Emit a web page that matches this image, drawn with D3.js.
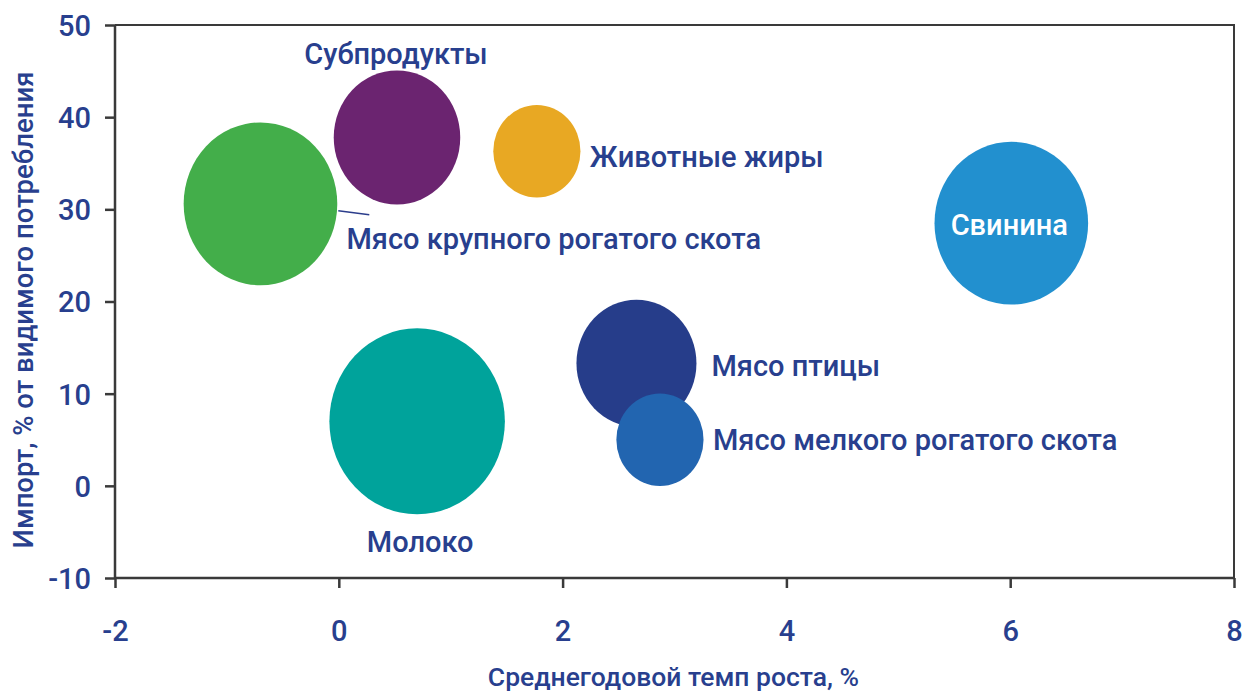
<!DOCTYPE html>
<html>
<head>
<meta charset="utf-8">
<script src="https://cdn.jsdelivr.net/npm/d3@7"></script>
<style>
  html, body { margin: 0; padding: 0; background: #fff; }
  svg { display: block; }
</style>
</head>
<body>
<svg id="chart" width="1246" height="691"></svg>
<script>
// ---- data ----
const categories = ["Мясо крупного рогатого скота", "Субпродукты", "Животные жиры", "Свинина",
                    "Мясо птицы", "Мясо мелкого рогатого скота", "Молоко"];
const growthRate = [-0.70, 0.52, 1.77, 6.01, 2.66, 2.87, 0.70];   // x, %
const importShare = [30.6, 37.8, 36.3, 28.5, 13.3, 5.0, 7.0];     // y, %
const bubbleSize = [59, 40, 19, 59, 36, 19, 77];                  // relative volume
const colors = ["#43ae4a", "#6b2470", "#e8a823", "#2290cf", "#263d8a", "#2265b0", "#00a39b"];
const xTicks = [-2, 0, 2, 4, 6, 8];
const yTicks = [-10, 0, 10, 20, 30, 40, 50];
const xTitle = "Среднегодовой темп роста, %";
const yTitle = "Импорт, % от видимого потребления";

// ---- layout ----
const mLeft = 115, mRight = 1234, mTop = 25, mBottom = 578;
const textColor = "#283f8e";
const font = "Roboto, 'Liberation Sans', sans-serif";

const svg = d3.select("#chart");
const x = d3.scaleLinear().domain([-2, 8]).range([mLeft, mRight]);
const y = d3.scaleLinear().domain([-10, 50]).range([mBottom, mTop]);
const r = d3.scaleSqrt().domain([0, 100]).range([0, 100]);
const aspect = 1.06;
const fmt = d => String(d);

// frame (top & right)
svg.append("path")
  .attr("d", `M${mLeft},${mTop}H${mRight}V${mBottom}`)
  .attr("fill", "none").attr("stroke", "#3a3a3a").attr("stroke-width", 2);

// bubbles
const data = categories.map((c, i) => ({ name: c, x: growthRate[i], y: importShare[i], s: bubbleSize[i], color: colors[i] }));
svg.append("g").selectAll("ellipse").data(data).join("ellipse")
  .attr("cx", d => x(d.x)).attr("cy", d => y(d.y))
  .attr("rx", d => r(d.s)).attr("ry", d => r(d.s) * aspect)
  .attr("fill", d => d.color);

// axes
const xAxis = svg.append("g").attr("transform", `translate(0,${mBottom})`)
  .call(d3.axisBottom(x).tickValues(xTicks).tickFormat(fmt).tickSize(10).tickPadding(32));
const yAxis = svg.append("g").attr("transform", `translate(${mLeft},0)`)
  .call(d3.axisLeft(y).tickValues(yTicks).tickFormat(fmt).tickSize(10).tickPadding(14));
[xAxis, yAxis].forEach(g => {
  g.select(".domain").attr("stroke", "#3a3a3a").attr("stroke-width", 2.5);
  g.selectAll(".tick line").attr("stroke", "#3a3a3a").attr("stroke-width", 2.5);
  g.selectAll(".tick text").attr("fill", textColor).attr("font-family", font)
    .attr("font-size", 29).attr("font-weight", 500);
});
yAxis.selectAll(".tick text").attr("dy", "0.36em");
xAxis.select(".domain").attr("d", `M${mLeft},0H${mRight}`);
yAxis.select(".domain").attr("d", `M0,${mTop}V${mBottom}`);

// axis titles
svg.append("text").attr("x", (mLeft + mRight) / 2 - 1).attr("y", 686)
  .attr("text-anchor", "middle").attr("fill", textColor)
  .attr("font-family", font).attr("font-size", 26.5).attr("font-weight", 500)
  .text(xTitle);
svg.append("text").attr("transform", `translate(33,310) rotate(-90)`)
  .attr("text-anchor", "middle").attr("fill", textColor)
  .attr("font-family", font).attr("font-size", 27.5).attr("font-weight", 500)
  .text(yTitle);

// labels (placement relative to each bubble)
const labelPlace = [
  { dx: 86, dy: 45, anchor: "start" },
  { dx: -1, dy: -73, anchor: "middle" },
  { dx: 53, dy: 16, anchor: "start" },
  { dx: -2, dy: 12, anchor: "middle", fill: "#ffffff" },
  { dx: 75, dy: 13, anchor: "start" },
  { dx: 53, dy: 10, anchor: "start" },
  { dx: 3, dy: 131, anchor: "middle" }
];
svg.append("g").selectAll("text").data(data).join("text")
  .attr("x", (d, i) => x(d.x) + labelPlace[i].dx)
  .attr("y", (d, i) => y(d.y) + labelPlace[i].dy)
  .attr("text-anchor", (d, i) => labelPlace[i].anchor)
  .attr("fill", (d, i) => labelPlace[i].fill || textColor)
  .attr("font-family", font).attr("font-size", 29).attr("font-weight", 500)
  .text(d => d.name);

// leader line for the first bubble
const d0 = data[0];
svg.append("line")
  .attr("x1", x(d0.x) + r(d0.s) + 1).attr("y1", y(d0.y) + 7)
  .attr("x2", x(d0.x) + r(d0.s) + 32).attr("y2", y(d0.y) + 11)
  .attr("stroke", "#2b3d8c").attr("stroke-width", 1.5);
</script>
</body>
</html>
